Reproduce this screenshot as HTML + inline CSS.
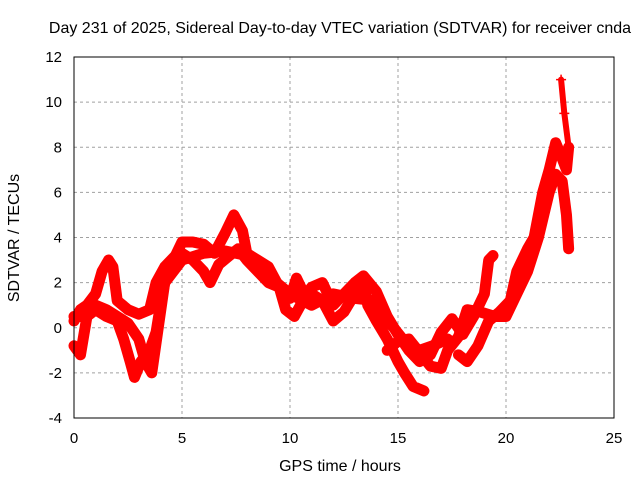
<!DOCTYPE html>
<html><head><meta charset="utf-8"><style>
body{margin:0;background:#fff}
svg{display:block;font-family:"Liberation Sans",sans-serif}
</style></head><body>
<svg id="chart" width="640" height="480">
<text x="340" y="33" font-size="16" text-anchor="middle" fill="#000">Day 231 of 2025, Sidereal Day-to-day VTEC variation (SDTVAR) for receiver cnda</text>
<g id="grid"></g><g id="series"></g><g id="axes"></g>
<text x="340" y="471" font-size="16" text-anchor="middle">GPS time / hours</text>
<text transform="translate(19,238) rotate(-90)" font-size="16" text-anchor="middle">SDTVAR / TECUs</text>
</svg>
<script>
const xTicks=[0,5,10,15,20,25];
const yTicks=[-4,-2,0,2,4,6,8,10,12];
const traceA=[[0,0.3],[0.3,0.8],[0.6,1.0],[1,1.5],[1.3,2.5],[1.6,3.0],[1.8,2.7],[2,1.2],[2.5,0.8],[3,0.6],[3.5,0.8],[3.8,2.0],[4.2,2.7],[4.7,3.2],[5,3.8],[5.5,3.8],[6,3.7],[6.5,3.3],[7,4.2],[7.4,5.0],[7.8,4.3],[8,3.3],[8.5,3.0],[9,2.7],[9.5,1.8],[10,1.3],[10.3,2.2],[10.7,1.4],[11,1.8],[11.5,2.0],[12,1.0],[12.5,1.5],[13,2.0],[13.4,2.3],[14,1.6],[14.5,0.5],[15,-0.3],[15.5,-1.0],[16,-1.5],[16.5,-1.2],[17,-0.2],[17.5,0.4],[18,-0.3],[18.5,0.5],[19,1.5],[19.2,3.0],[19.4,3.2]];
const traceB=[[0,-0.8],[0.3,-1.2],[0.6,0.5],[1,0.8],[1.5,0.5],[2,0.3],[2.3,-0.5],[2.6,-1.5],[2.8,-2.2],[3.1,-1.5],[3.5,-1.0],[3.8,-0.2],[4,1.0],[4.3,2.5],[5,3.3],[5.5,3.0],[6,2.5],[6.3,2.0],[6.7,2.8],[7.2,3.2],[7.6,3.5],[8,3.0],[8.5,2.5],[9,2.0],[9.5,1.8],[9.8,0.8],[10.2,0.5],[10.6,1.2],[11,1.5],[11.5,1.2],[12,0.3],[12.5,0.7],[13,1.5],[13.4,2.0],[13.6,1.0],[14,0.3],[14.5,-0.5],[15,-1.5],[15.3,-2.0],[15.7,-2.6],[16.2,-2.8]];
const traceC=[[14.5,-1.0],[15,-0.6],[15.5,-0.5],[16,-1.1],[16.5,-1.7],[17,-1.8],[17.3,-1.0],[17.8,-0.4],[18.2,0.8],[18.8,0.7],[19.5,0.5],[20,0.5],[20.5,1.5],[21,2.5],[21.5,4.0],[22,6.0],[22.3,6.8],[22.6,6.5],[22.8,5.0],[22.9,3.5]];
const traceD=[[17.8,-1.2],[18.2,-1.5],[18.7,-0.8],[19.2,0.3],[19.7,0.7],[20.2,1.2],[20.5,2.5],[21,3.5],[21.3,4.0],[21.7,6.0],[22,7.0],[22.3,8.2],[22.6,7.5],[22.8,7.0],[22.9,8.0]];
const traceE=[[22.55,11.0],[22.7,9.5],[22.9,8.0]];
const traceF=[[0,0.5],[0.5,0.5],[1,1.0],[1.5,0.8],[2,0.5],[2.5,0.2],[3,-0.5],[3.3,-1.5],[3.6,-2.0],[3.9,0],[4.2,2.0],[5,3.0],[6,3.3],[7,3.4],[8,3.2],[9,2.3],[10,1.5],[11,1.0],[12,1.5],[13,1.3],[14,1.2],[14.3,0.5],[14.8,0],[15.3,-0.6],[16,-1.0],[16.6,-0.8],[17.3,-0.5]];
const traces=[traceA,traceB,traceC,traceD,traceE,traceF];
const X0=74,X1=614,Y0=418,Y1=57;
const sx=v=>X0+(v-0)/(25-0)*(X1-X0);
const sy=v=>Y0-(v+4)/(16)*(Y0-Y1);
const NS="http://www.w3.org/2000/svg";
function mk(t,a,p){const e=document.createElementNS(NS,t);for(const k in a)e.setAttribute(k,a[k]);p.appendChild(e);return e;}
const grid=document.getElementById('grid'),axes=document.getElementById('axes'),ser=document.getElementById('series');
xTicks.forEach(t=>{const x=sx(t);
 if(t>0&&t<25){const l=mk('line',{x1:x,x2:x,y1:Y1,y2:Y0,stroke:'#a0a0a0','stroke-dasharray':'3,3'},grid);
 
 }
 const tx=mk('text',{x:x,y:Y0+25,'font-size':15,'text-anchor':'middle'},axes);tx.textContent=t;
 
 });
yTicks.forEach(t=>{const y=sy(t);
 if(t>-4&&t<12){const l=mk('line',{x1:X0,x2:X1,y1:y,y2:y,stroke:'#a0a0a0','stroke-dasharray':'3,3'},grid);
 
 }
 const tx=mk('text',{x:X0-12,y:y+5,'font-size':15,'text-anchor':'end'},axes);tx.textContent=t;
 
 });
const fr=mk('rect',{x:X0,y:Y1,width:X1-X0,height:Y0-Y1,fill:'none',stroke:'#000','stroke-width':1},axes);


traces.forEach((tr,i)=>{
 const pl=mk('polyline',{points:tr.map(p=>sx(p[0])+','+sy(p[1])).join(' '),fill:'none',stroke:'#ff0000','stroke-width':i==4?6:11,'stroke-linejoin':'round','stroke-linecap':'round'},ser);
 
 
 tr.forEach(p=>{const x=sx(p[0]),y=sy(p[1]);
  const m=mk('path',{d:`M${x-5},${y}h10M${x},${y-5}v10`,stroke:'#ff0000','stroke-width':1.5},ser);
  
  });
});
</script>
</body></html>
